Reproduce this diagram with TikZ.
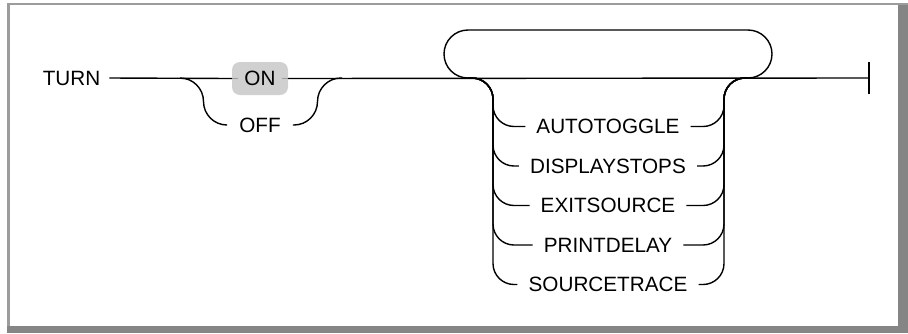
\documentclass[tikz,border=0pt]{standalone}
\usepackage{fontspec}
\setmainfont{Liberation Sans}
\definecolor{onfill}{HTML}{D0D0D0}
\definecolor{tickgray}{HTML}{9A9A9A}
\definecolor{framelight}{HTML}{9C9C9C}
\definecolor{framedark}{HTML}{858585}
\begin{document}
\begin{tikzpicture}[x=1pt,y=-1pt,
  rail/.style={line width=1.4pt, black},
  kw/.style={font=\fontsize{20.7}{24}\selectfont, inner xsep=11pt, inner ysep=2pt},
  onbox/.style={kw, fill=onfill, rounded corners=8pt, minimum width=56pt, minimum height=33pt, inner xsep=0pt},
]
\useasboundingbox (0,0) rectangle (908,333);
% frame
\fill[framelight] (7.3,2.7) rectangle (908,4.7);
\fill[framelight] (7.3,2.7) rectangle (10.3,333);
\fill[framedark] (898.3,4.7) rectangle (908,333);
\fill[framedark] (7.3,325.7) rectangle (908,333);

% nodes
\node[kw, inner xsep=9pt] (turn) at (71.5,78) {TURN};
\node[onbox] (on) at (260,78.5) {ON};
\node[kw, inner xsep=12pt] (off) at (260,125) {OFF};
\node[kw] (o1) at (608,126.5) {AUTOTOGGLE};
\node[kw] (o2) at (608,166) {DISPLAYSTOPS};
\node[kw] (o3) at (608,205.5) {EXITSOURCE};
\node[kw] (o4) at (608,245) {PRINTDELAY};
\node[kw] (o5) at (608,284.5) {SOURCETRACE};

\coordinate (s1) at (180,78);
\coordinate (j1) at (342,78);
\coordinate (ls) at (468,78);
\coordinate (rs) at (748,78);
\coordinate (endp) at (869,78);

% main line
\draw[rail] (turn.east) -- (on.west);
\draw[rail] (on.east) -- (endp);
\draw[line width=1pt, tickgray] (on.west) -- ++(6,0);
\draw[line width=1pt, tickgray] (on.east) -- ++(-6,0);
\draw[rail] (endp) ++(0,-16) -- ++(0,32);

% OFF branch
\draw[rail, rounded corners=23.5pt] (s1) -| (203.5,125) -- (off.west);
\draw[rail, rounded corners=23.5pt] (off.east) -| (317.5,78) -- (j1);

% loop
\draw[rail, rounded corners=24pt] (ls) -| (444,30) -| (772,78) -- (rs);

% options
\foreach \o/\y in {o1/126.5,o2/166,o3/205.5,o4/245,o5/284.5}{
  \draw[rail, rounded corners=21pt] (ls) -| (493,\y) -- (\o.west);
  \draw[rail, rounded corners=21pt] (\o.east) -| (724,78) -- (rs);
}
\end{tikzpicture}
\end{document}
